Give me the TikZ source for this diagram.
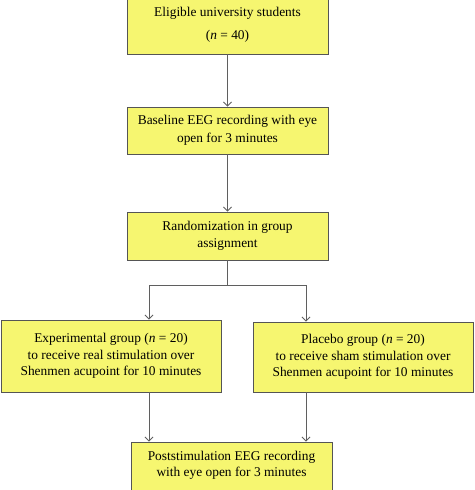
\documentclass[tikz,border=0pt]{standalone}
\usepackage{fontspec}
\setmainfont{Liberation Serif}
\usetikzlibrary{arrows.meta}
\definecolor{boxfill}{RGB}{246,246,112}
\definecolor{boxline}{RGB}{85,85,85}
\definecolor{arrline}{RGB}{95,95,95}
\begin{document}
\begin{tikzpicture}
			[x=1pt,y=1pt,
			box/.style={rectangle,draw=boxline,line width=0.9pt,fill=boxfill,align=center,inner sep=0pt,
				font=\fontsize{13.4}{16.5}\selectfont},
			arr/.style={draw=arrline,line width=0.9pt,-{Straight Barb[length=4pt,width=8pt]}},
			lin/.style={draw=arrline,line width=0.9pt}]
			\useasboundingbox (0,0) rectangle (474,-490);
			\begin{scope}
			\clip (0,0) rectangle (474,-490);
			\node[box,name=eligible,minimum width=201pt,minimum height=58pt] at (227.5,-25) {Eligible university students\\[6pt](\textit{n} = 40)};
			\node[box,name=baseline,minimum width=201pt,minimum height=47pt] at (227.5,-130.5) {Baseline EEG recording with eye\\[1pt]open for 3 minutes};
			\node[box,name=random,minimum width=201pt,minimum height=48pt] at (227.5,-236) {Randomization in group\\assignment};
			\node[box,name=exper,minimum width=220pt,minimum height=72pt] at (111,-356) {Experimental group (\textit{n} = 20)\\to receive real stimulation over\\Shenmen acupoint for 10 minutes};
			\node[box,name=placebo,minimum width=220pt,minimum height=70pt] at (363,-357) {Placebo group (\textit{n} = 20)\\to receive sham stimulation over\\Shenmen acupoint for 10 minutes};
			\node[box,name=post,minimum width=201pt,minimum height=54pt] at (231.5,-469) {Poststimulation EEG recording\\with eye open for 3 minutes\\[-6pt]};
			\coordinate (split) at (227.5,-285);
			\coordinate (splitl) at (149,-285);
			\coordinate (splitr) at (306,-285);
			\draw[arr](eligible)--(baseline);
			\draw[arr](baseline)--(random);
			\draw[lin](random)--(split);
			\draw[lin](splitl)--(splitr);
			\draw[arr](splitl)--(splitl|-exper.north);
			\draw[arr](splitr)--(splitr|-placebo.north);
			\draw[arr](exper.south-|splitl)--(splitl|-post.north);
			\draw[arr](placebo.south-|splitr)--(splitr|-post.north);
			\end{scope}
		\end{tikzpicture}
\end{document}
